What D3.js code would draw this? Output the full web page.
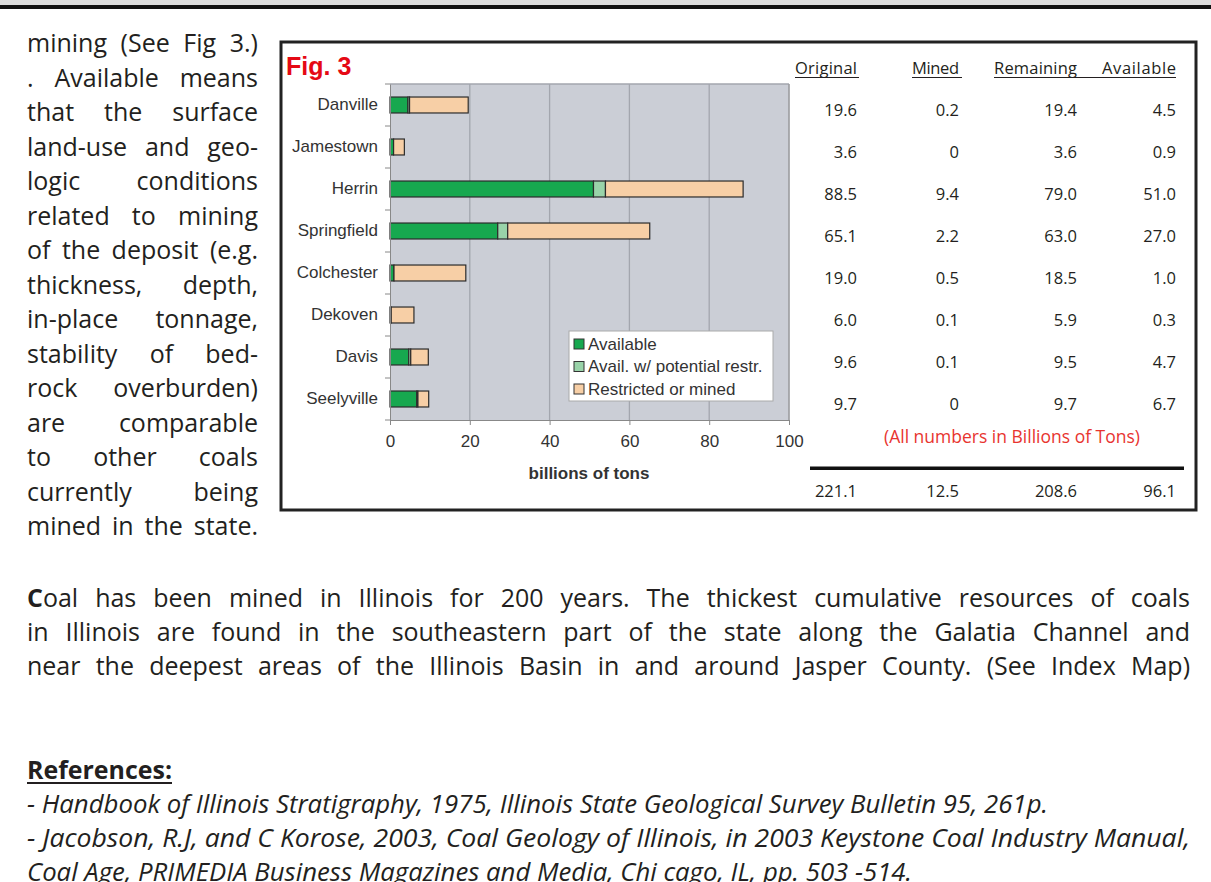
<!DOCTYPE html>
<html>
<head>
<meta charset="utf-8">
<script src="https://cdn.jsdelivr.net/npm/d3@7"></script>
<style>
    body { margin: 0; background: #fff; }
    svg text { font-family: "Open Sans", sans-serif; }
    svg text.arial { font-family: "Liberation Sans", Arial, sans-serif; }
</style>
</head>
<body>
<svg id="page"></svg>
<script>
// Data
const seams = ["Danville", "Jamestown", "Herrin", "Springfield", "Colchester", "Dekoven", "Davis", "Seelyville"];
const available = [4.5, 0.9, 51.0, 27.0, 1.0, 0.3, 4.7, 6.7];
const availRestr = [0.4, 0, 3.0, 2.5, 0, 0, 0.5, 0.3];
const restricted = [14.7, 2.7, 34.5, 35.6, 18.0, 5.7, 4.4, 2.7];
const seriesNames = ["Available", "Avail. w/ potential restr.", "Restricted or mined"];
const seriesColors = ["#17a84f", "#99d3a9", "#f7cfa6"];
const xTicks = [0, 20, 40, 60, 80, 100];

const tableHeads = ["Original", "Mined", "Remaining", "Available"];
const original = [19.6, 3.6, 88.5, 65.1, 19.0, 6.0, 9.6, 9.7];
const mined = [0.2, 0, 9.4, 2.2, 0.5, 0.1, 0.1, 0];
const remaining = [19.4, 3.6, 79.0, 63.0, 18.5, 5.9, 9.5, 9.7];
const availTons = [4.5, 0.9, 51.0, 27.0, 1.0, 0.3, 4.7, 6.7];
const totals = [221.1, 12.5, 208.6, 96.1];

const sideText = [
    "mining (See Fig 3.)",
    ". Available means",
    "that the surface",
    "land-use and geo-",
    "logic conditions",
    "related to mining",
    "of the deposit (e.g.",
    "thickness, depth,",
    "in-place tonnage,",
    "stability of bed-",
    "rock overburden)",
    "are comparable",
    "to other coals",
    "currently being",
    "mined in the state.",
];
const bodyText = [
    "^Coal has been mined in Illinois for 200 years.  The thickest cumulative resources of coals",
    "in Illinois are found in the southeastern part of the state along the Galatia Channel and",
    "near the deepest areas of the Illinois Basin in and around Jasper County. (See Index Map)",
];
const refs = [
    "- Handbook of Illinois Stratigraphy, 1975, Illinois State Geological Survey Bulletin 95, 261p.",
    "- Jacobson, R.J, and C Korose, 2003, Coal Geology of Illinois, in 2003 Keystone Coal Industry Manual,",
    "Coal Age, PRIMEDIA Business Magazines and Media, Chi cago, IL, pp. 503 -514.",
];

const width = 1211,
    height = 882;

const svg = d3.select("#page").attr("width", width).attr("height", height);

// Page header rule
svg.append("rect").attr("x", 0).attr("y", 0).attr("width", width).attr("height", 6).attr("fill", "#dcdcdc");
svg.append("rect").attr("x", 0).attr("y", 5).attr("width", width).attr("height", 4).attr("fill", "#111");

// Justified line: words spread to fill width (squeezed if too long)
function justifyLine(str, x0, y0, w, size) {
    const words = str.split(/\s+/).filter((d) => d.length);
    const g = svg.append("g");
    const nodes = words.map((wd) => {
        const t = g.append("text")
            .attr("y", y0)
            .attr("font-size", size)
            .attr("fill", "#231f20");
        if (wd[0] === "^") {
            t.append("tspan").attr("font-weight", "bold").text(wd[1]);
            t.append("tspan").text(wd.slice(2));
        } else {
            t.text(wd);
        }
        return t;
    });
    const widths = nodes.map((n) => n.node().getComputedTextLength());
    const sum = d3.sum(widths);
    const space = size * 0.26;
    const natural = sum + space * (words.length - 1);
    let k = 1,
        gap = space;
    if (natural > w) {
        k = w / natural;
    } else if (words.length > 1) {
        gap = (w - sum) / (words.length - 1);
    }
    let cx = 0;
    nodes.forEach((n, i) => {
        n.attr("x", cx);
        cx += widths[i] + gap;
    });
    g.attr("transform", `translate(${x0},0) scale(${k},1)`);
}

sideText.forEach((line, i) => justifyLine(line, 27, 52 + i * 34.5, 231, 25));
bodyText.forEach((line, i) => justifyLine(line, 27, 607 + i * 34, 1163, 25));

// References
svg.append("text")
    .attr("x", 27)
    .attr("y", 779)
    .attr("font-size", 25)
    .attr("font-weight", "bold")
    .attr("fill", "#231f20")
    .attr("textLength", 145)
    .attr("lengthAdjust", "spacingAndGlyphs")
    .text("References:");
svg.append("rect").attr("x", 27).attr("y", 782).attr("width", 145).attr("height", 2).attr("fill", "#231f20");

const refWidths = [1021, 1163, 885];
refs.forEach((line, i) => {
    svg.append("text")
        .attr("x", 27)
        .attr("y", 813 + i * 34)
        .attr("font-size", 25)
        .attr("font-style", "italic")
        .attr("fill", "#231f20")
        .attr("textLength", refWidths[i])
        .attr("lengthAdjust", "spacingAndGlyphs")
        .text(line);
});

// Figure box
svg.append("rect")
    .attr("x", 281)
    .attr("y", 42)
    .attr("width", 915)
    .attr("height", 468)
    .attr("fill", "#fff")
    .attr("stroke", "#222")
    .attr("stroke-width", 3);

svg.append("text")
    .attr("class", "arial")
    .attr("x", 286)
    .attr("y", 75)
    .attr("font-size", 25)
    .attr("font-weight", "bold")
    .attr("fill", "#e50914")
    .text("Fig. 3");

// Scales
const x = d3.scaleLinear().domain([0, 100]).range([390, 789]);
const y = d3.scaleBand().domain(seams).range([84, 420]).paddingInner(0.62).paddingOuter(0.31);

// Plot area
svg.append("rect")
    .attr("x", x(0))
    .attr("y", 84)
    .attr("width", x(100) - x(0))
    .attr("height", 336)
    .attr("fill", "#cbced6");

svg.append("g")
    .selectAll("line")
    .data(xTicks.slice(1))
    .join("line")
    .attr("x1", (d) => x(d))
    .attr("x2", (d) => x(d))
    .attr("y1", 84)
    .attr("y2", 420)
    .attr("stroke", "#a3a6ae")
    .attr("stroke-width", 1.3);

svg.append("line")
    .attr("x1", x(0)).attr("x2", x(100))
    .attr("y1", 84).attr("y2", 84)
    .attr("stroke", "#a3a6ae").attr("stroke-width", 1.3);

// Stacked bars
const rows = seams.map((s, i) => ({
    seam: s,
    a: available[i],
    b: availRestr[i],
    c: restricted[i],
}));
const stack = d3.stack().keys(["a", "b", "c"])(rows);

svg.append("g")
    .selectAll("g")
    .data(stack)
    .join("g")
    .attr("fill", (d, i) => seriesColors[i])
    .selectAll("rect")
    .data((d) => d.filter((p) => p[1] - p[0] > 0))
    .join("rect")
    .attr("x", (d) => x(d[0]))
    .attr("y", (d) => y(d.data.seam))
    .attr("width", (d) => x(d[1]) - x(d[0]))
    .attr("height", y.bandwidth())
    .attr("stroke", "#2b2b2b")
    .attr("stroke-width", 1.2);

// Axes
const xAxis = svg.append("g")
    .attr("transform", "translate(0,420)")
    .call(d3.axisBottom(x).tickValues(xTicks).tickSize(5).tickPadding(10));
xAxis.select(".domain").attr("stroke", "#888");
xAxis.selectAll(".tick line").attr("stroke", "#888");
xAxis.selectAll("text")
    .attr("class", "arial")
    .attr("font-size", 17)
    .attr("fill", "#333");

const yAxis = svg.append("g")
    .attr("transform", `translate(${x(0)},0)`)
    .call(d3.axisLeft(y).tickSize(0).tickPadding(12));
yAxis.select(".domain").attr("stroke", "#888");
yAxis.selectAll("text")
    .attr("class", "arial")
    .attr("font-size", 17)
    .attr("fill", "#333");
svg.append("g")
    .selectAll("line")
    .data(d3.range(seams.length + 1))
    .join("line")
    .attr("x1", x(0) - 5)
    .attr("x2", x(0))
    .attr("y1", (i) => 84 + i * y.step())
    .attr("y2", (i) => 84 + i * y.step())
    .attr("stroke", "#888");

svg.append("line")
    .attr("x1", x(100)).attr("x2", x(100))
    .attr("y1", 84).attr("y2", 420)
    .attr("stroke", "#999");

svg.append("text")
    .attr("class", "arial")
    .attr("x", 589)
    .attr("y", 479)
    .attr("text-anchor", "middle")
    .attr("font-size", 17)
    .attr("font-weight", "bold")
    .attr("fill", "#333")
    .text("billions of tons");

// Legend
const legend = svg.append("g").attr("transform", "translate(569,331)");
legend.append("rect")
    .attr("width", 204)
    .attr("height", 70)
    .attr("fill", "#fff")
    .attr("stroke", "#aaa");
seriesNames.forEach((name, i) => {
    const row = legend.append("g").attr("transform", `translate(5,${13 + i * 22.5})`);
    row.append("rect")
        .attr("x", 0)
        .attr("y", -5)
        .attr("width", 10)
        .attr("height", 10)
        .attr("fill", seriesColors[i])
        .attr("stroke", "#333");
    row.append("text")
        .attr("class", "arial")
        .attr("x", 14)
        .attr("y", 5.5)
        .attr("font-size", 17)
        .attr("fill", "#333")
        .text(name);
});

// Table
const colRight = [857, 959, 1077, 1176];
const headLeft = [795, 912, 994, 1102];
tableHeads.forEach((h, j) => {
    const w = colRight[j] - headLeft[j];
    svg.append("text")
        .attr("x", headLeft[j])
        .attr("y", 74)
        .attr("font-size", 16.5)
        .attr("fill", "#231f20")
        .attr("textLength", w)
        .attr("lengthAdjust", "spacing")
        .text(h);
});
svg.append("line").attr("x1", 795).attr("x2", 859).attr("y1", 77.5).attr("y2", 77.5).attr("stroke", "#231f20");
svg.append("line").attr("x1", 912).attr("x2", 962).attr("y1", 77.5).attr("y2", 77.5).attr("stroke", "#231f20");
svg.append("line").attr("x1", 994).attr("x2", 1176).attr("y1", 77.5).attr("y2", 77.5).attr("stroke", "#231f20");

const fmt = (v) => (v === 0 ? "0" : v.toFixed(1));
const cols = [original, mined, remaining, availTons];
cols.forEach((col, j) => {
    svg.append("g")
        .selectAll("text")
        .data(col)
        .join("text")
        .attr("x", colRight[j])
        .attr("y", (d, i) => y(seams[i]) + y.bandwidth() / 2 + 11)
        .attr("text-anchor", "end")
        .attr("font-size", 16.5)
        .attr("fill", "#231f20")
        .text(fmt);
});

svg.append("text")
    .attr("x", 1012)
    .attr("y", 443)
    .attr("text-anchor", "middle")
    .attr("font-size", 17.5)
    .attr("fill", "#e8342f")
    .text("(All numbers in Billions of Tons)");

svg.append("rect").attr("x", 810).attr("y", 466.5).attr("width", 374).attr("height", 3.5).attr("fill", "#111");

svg.append("g")
    .selectAll("text")
    .data(totals)
    .join("text")
    .attr("x", (d, j) => colRight[j])
    .attr("y", 497)
    .attr("text-anchor", "end")
    .attr("font-size", 16.5)
    .attr("fill", "#231f20")
    .text(fmt);
</script>
</body>
</html>
